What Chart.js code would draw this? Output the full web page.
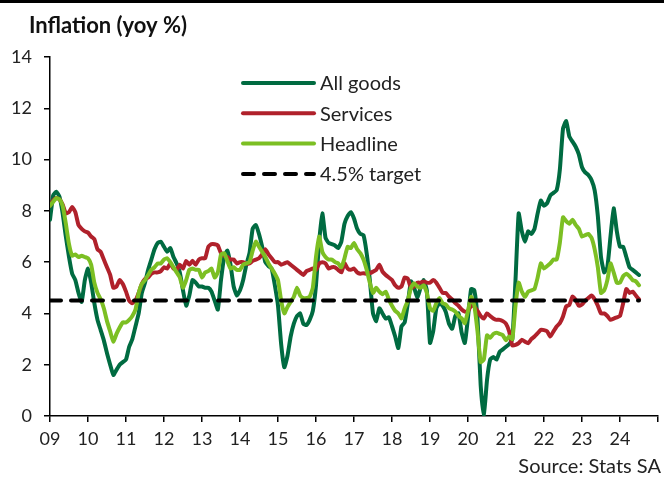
<!DOCTYPE html>
<html>
<head>
<meta charset="utf-8">
<script src="https://cdn.jsdelivr.net/npm/chart.js@4"></script>
<style>
  html, body { margin: 0; padding: 0; background: #fff; }
  #wrap { width: 664px; height: 477px; position: relative; }
</style>
</head>
<body>
<div id="wrap"><canvas id="c" width="664" height="477"></canvas></div>
<script>
// Monthly series, Jan 2009 .. Jul 2024 (yoy %)
const yearLabels = ['09','10','11','12','13','14','15','16','17','18','19','20','21','22','23','24'];
const seriesNames = ['All goods', 'Services', 'Headline', '4.5% target'];
const targetValue = 4.5;

const allGoods = [
  7.65, 8.6, 8.75, 8.55, 7.9, 7.0, 6.2, 5.55, 5.3, 4.8, 4.45, 5.3,
  5.75, 5.2, 4.4, 3.75, 3.35, 2.95, 2.45, 2.0, 1.6, 1.8, 2.0, 2.1,
  2.2, 2.7, 3.0, 3.5, 4.0, 4.8, 5.2, 5.7, 6.1, 6.5, 6.75, 6.8,
  6.6, 6.4, 6.55, 6.2, 5.95, 5.6, 4.9, 4.3, 4.7, 5.3, 5.2, 5.05,
  5.05, 5.0, 5.0, 4.85, 4.5, 4.15, 5.3, 6.2, 6.45, 5.9, 5.05, 4.7,
  4.9, 5.3, 5.9, 6.35, 7.3, 7.45, 7.1, 6.6, 6.0, 5.85, 5.75, 5.1,
  4.3, 2.8, 1.9, 2.35, 3.1, 3.6, 3.9, 4.0, 3.6, 3.55, 3.75, 4.1,
  5.1, 6.8, 7.9, 6.95, 6.75, 6.7, 6.65, 6.55, 6.8, 7.5, 7.8, 7.95,
  7.7, 7.3, 7.1, 7.05, 6.35, 5.3, 4.0, 3.7, 4.2, 4.0, 3.8, 3.85,
  3.5, 3.1, 2.65, 3.5, 3.65, 4.4, 5.25, 5.0, 4.6, 5.0, 5.3, 4.9,
  2.85, 3.3, 4.2, 4.4, 4.3, 4.05, 3.6, 3.4, 3.9, 4.0, 3.25, 2.85,
  3.85, 4.95, 4.9, 3.8, 1.2, 0.0, 1.4, 2.2, 2.3, 2.2, 2.5, 2.6,
  2.7, 2.8, 3.0, 5.3, 7.9, 7.2, 6.8, 7.2, 7.1, 7.3, 7.9, 8.4,
  8.2, 8.3, 8.6, 8.7, 8.8, 9.6, 11.2, 11.5, 10.9, 10.7, 10.5, 10.2,
  9.7, 9.5, 9.4, 9.2, 8.8, 7.8, 6.2, 5.6, 5.8, 7.0, 8.1, 7.2,
  6.6, 6.6, 6.2, 5.8, 5.7, 5.6, 5.5
];

const services = [
  8.2, 8.4, 8.5, 8.45, 8.25, 7.9, 7.95, 8.15, 7.95, 7.45, 7.3, 7.2,
  7.15, 7.0, 6.9, 6.5, 6.4, 6.1, 5.8, 5.5, 5.0, 5.05, 5.3, 5.15,
  4.85, 4.5, 4.4, 4.5, 4.8, 5.15, 5.35, 5.4, 5.55, 5.6, 5.6, 5.65,
  5.8, 5.75, 5.95, 5.75, 5.7, 5.9, 5.75, 6.05, 5.9, 6.05, 5.9, 6.1,
  6.15, 6.15, 6.6, 6.7, 6.7, 6.65, 6.35, 6.25, 6.2, 6.1, 6.1, 5.95,
  6.0, 6.0, 5.95, 5.95, 6.05, 6.1, 6.15, 6.3, 6.5, 6.3, 6.15, 6.0,
  6.0, 5.9, 5.95, 6.0, 5.9, 5.8, 5.7, 5.6, 5.5, 5.65, 5.7, 5.75,
  5.7, 5.95, 6.0, 5.95, 5.75, 5.8, 5.8, 5.7, 5.6, 5.95, 5.75, 5.7,
  5.75, 5.6, 5.55, 5.57, 5.55, 5.57, 5.63, 5.7, 5.9, 5.63, 5.5, 5.4,
  5.3, 5.1, 5.0, 5.05, 5.4, 5.35, 5.0, 5.05, 5.2, 5.2, 5.25, 5.2,
  5.2, 5.3, 5.2, 5.0, 4.8, 4.8, 4.65, 4.55, 4.4, 4.3, 4.15, 4.07,
  4.1, 4.3, 4.27, 4.1, 3.9, 3.8, 4.0, 3.9, 3.8, 3.75, 3.75, 3.7,
  3.6, 3.3, 2.75, 2.77, 2.84, 2.97, 2.9, 2.84, 3.0, 3.1, 3.23, 3.36,
  3.35, 3.3, 3.1, 3.3, 3.49, 3.62, 3.88, 4.27, 4.33, 4.66, 4.53, 4.3,
  4.35, 4.5, 4.6, 4.7, 4.55, 4.3, 4.0, 4.0, 3.9, 3.75, 3.8, 3.85,
  3.9, 4.4, 4.95, 4.8, 4.85, 4.7, 4.55
];

const headline = [
  8.2, 8.35, 8.5, 8.45, 8.2, 7.5, 6.7, 6.25, 6.3, 6.2, 6.25, 6.2,
  6.15, 5.9, 5.2, 4.8, 4.55, 4.2, 3.7, 3.3, 2.9, 3.2, 3.45, 3.65,
  3.65, 3.75, 3.9, 4.15, 4.8, 5.15, 5.3, 5.5, 5.7, 5.8, 5.95, 5.95,
  6.1, 6.15, 6.0, 5.8, 5.6, 5.4, 5.0, 5.3, 5.7, 5.75, 5.7, 5.7,
  5.4, 5.6, 5.65, 5.75, 5.4, 5.6, 6.3, 6.35, 6.05, 5.75, 5.8, 5.7,
  5.7, 5.9, 5.95, 6.0, 6.45, 6.8, 6.6, 6.4, 6.2, 5.95, 5.75, 5.55,
  5.3, 4.5, 4.0, 4.25, 4.45, 4.65, 5.0, 4.7, 4.6, 4.6, 4.65, 5.0,
  6.2, 7.0, 6.4, 6.2, 6.1, 6.1, 6.0, 5.95, 5.8, 6.15, 6.6, 6.55,
  6.75, 6.5, 6.35, 6.1, 5.7, 5.2, 4.8, 5.0, 4.85, 4.75, 4.85, 4.55,
  4.3, 4.1, 4.0, 3.81, 4.2, 4.5, 5.0, 5.18, 5.05, 5.0, 5.1, 4.8,
  4.2, 4.1, 4.4, 4.6, 4.4, 4.35, 4.2, 4.15, 4.07, 3.9, 3.81, 3.62,
  4.1, 4.65, 4.3, 3.3, 2.1, 2.2, 3.15, 3.05, 3.2, 3.25, 3.2, 3.15,
  2.95, 3.1, 3.0, 4.3, 5.2, 4.85, 4.65, 4.85, 4.9, 4.95, 5.4, 5.95,
  5.75, 5.85, 5.95, 6.1, 6.1, 6.75, 7.75, 7.6, 7.5, 7.65, 7.45, 7.3,
  7.0, 7.05, 7.1, 6.95, 6.5, 5.8, 4.8, 4.9, 5.3, 5.95, 5.6, 5.2,
  5.2, 5.45, 5.55, 5.45, 5.3, 5.25, 5.1
];

const colors = ['#006b41', '#b0212b', '#7cbf23', '#000000'];
const FONT = 'Lato, "Open Sans", sans-serif';

const toPts = arr => arr.map((v, i) => ({ x: i, y: v }));
const lastIdx = allGoods.length - 1;

const common = {
  fill: false, pointRadius: 0, pointHoverRadius: 0,
  borderWidth: 4, tension: 0.15,
  borderJoinStyle: 'round', borderCapStyle: 'round'
};

const datasets = [
  Object.assign({ label: seriesNames[0], data: toPts(allGoods), borderColor: colors[0], order: 3 }, common),
  Object.assign({ label: seriesNames[1], data: toPts(services), borderColor: colors[1], order: 2 }, common),
  Object.assign({ label: seriesNames[2], data: toPts(headline), borderColor: colors[2], order: 1 }, common),
  Object.assign({}, common, { label: seriesNames[3], data: [{x: 0, y: targetValue}, {x: lastIdx, y: targetValue}],
    borderColor: colors[3], borderDash: [11, 10], borderCapStyle: 'round', tension: 0, order: 0 })
];

const decor = {
  id: 'decor',
  beforeDraw(chart) {
    const ctx = chart.ctx;
    ctx.save();
    ctx.fillStyle = '#fff';
    ctx.fillRect(0, 0, chart.width, chart.height);
    ctx.restore();
  },
  afterDraw(chart) {
    const ctx = chart.ctx;
    ctx.save();
    // top rule
    ctx.fillStyle = '#000';
    ctx.fillRect(0, 0, chart.width, 3);
    // title
    ctx.fillStyle = '#111';
    ctx.font = 'bold 22px ' + FONT;
    ctx.textBaseline = 'middle';
    ctx.textAlign = 'left';
    ctx.fillText('Inflation (yoy %)', 29, 26);
    // source
    ctx.font = '20px ' + FONT;
    ctx.fillStyle = '#222';
    ctx.textAlign = 'right';
    ctx.fillText('Source: Stats SA', 661, 467);
    // legend
    const x0 = 243, x1 = 314, tx = 320, y0 = 83, dy = 30.3;
    chart.data.datasets.forEach((ds, i) => {
      const y = y0 + i * dy;
      ctx.beginPath();
      ctx.strokeStyle = ds.borderColor;
      ctx.lineWidth = 4;
      ctx.lineCap = 'round';
      ctx.setLineDash(ds.borderDash || []);
      ctx.moveTo(x0, y);
      ctx.lineTo(x1, y);
      ctx.stroke();
      ctx.setLineDash([]);
      ctx.fillStyle = '#222';
      ctx.font = '20px ' + FONT;
      ctx.textAlign = 'left';
      ctx.textBaseline = 'middle';
      ctx.fillText(ds.label, tx, y + 1);
    });
    ctx.restore();
  }
};

new Chart(document.getElementById('c'), {
  type: 'line',
  data: { datasets },
  plugins: [decor],
  options: {
    responsive: false,
    animation: false,
    events: [],
    layout: { padding: { top: 57, right: 6, left: 0, bottom: 0 } },
    plugins: { legend: { display: false }, tooltip: { enabled: false }, title: { display: false } },
    scales: {
      x: {
        type: 'linear', min: 0, max: 192,
        border: { display: true, color: '#000', width: 1.5 },
        grid: { display: true, drawOnChartArea: false, drawTicks: true, tickLength: 6, color: '#000', lineWidth: 1.5 },
        ticks: {
          stepSize: 12, autoSkip: false, maxRotation: 0, padding: 6,
          color: '#222', font: { family: FONT, size: 18 },
          callback: v => { const k = Math.round(v / 12); return (v % 12 === 0 && yearLabels[k]) ? yearLabels[k] : ''; }
        },
        afterFit: s => { s.height = 61; }
      },
      y: {
        min: 0, max: 14,
        border: { display: true, color: '#000', width: 1.5 },
        grid: { display: true, drawOnChartArea: false, drawTicks: true, tickLength: 6, color: '#000', lineWidth: 1.5 },
        ticks: { stepSize: 2, padding: 12, color: '#222', font: { family: FONT, size: 18 } },
        afterFit: s => { s.width = 50; }
      }
    }
  }
});
</script>
</body>
</html>
